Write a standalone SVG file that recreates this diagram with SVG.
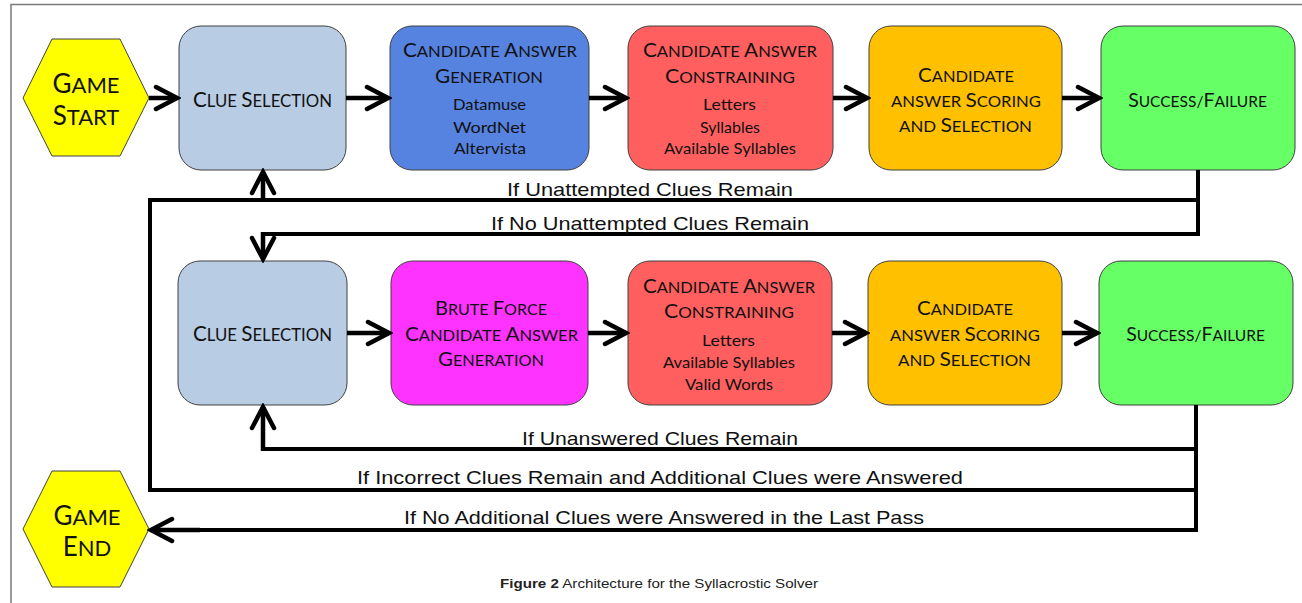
<svg xmlns="http://www.w3.org/2000/svg" width="1302" height="603" viewBox="0 0 1302 603">
<defs>
<marker id="chev" markerUnits="userSpaceOnUse" viewBox="-26 -16 30 32" refX="0" refY="0" markerWidth="30" markerHeight="32" orient="auto">
<path d="M-21,-11 L0,0 L-21,11" fill="none" stroke="#000" stroke-width="4.5" stroke-linejoin="miter" stroke-linecap="round"/>
</marker>
</defs>
<style>
.box{stroke:#404040;stroke-width:1}
.t{font-family:Lato,"Open Sans","DejaVu Sans",sans-serif;fill:#111;text-anchor:middle}
.b{font-size:20px}
.s{font-size:16px}
.b1{font-size:21px}
.s1{font-size:17px}
.b2{font-size:19.5px}
.s2{font-size:15.5px}
.sub{font-family:Lato,"Open Sans","DejaVu Sans",sans-serif;font-size:16px;fill:#111;text-anchor:middle}
.lbl{font-family:"Liberation Sans",Arial,sans-serif;font-size:18.5px;fill:#111;text-anchor:middle}
.ln{fill:none;stroke:#000;stroke-width:4}
.ar{fill:none;stroke:#000;stroke-width:4.5;marker-end:url(#chev)}
</style>
<rect width="1302" height="603" fill="#fff"/>
<path d="M11,603 L11,4.5 L1302,4.5" fill="none" stroke="#7a7a7a" stroke-width="1.5"/>

<g id="game-start">
<polygon class="box" points="23,98 52,39 120,39 149,98 120,156 52,156" fill="#ffff00"/>
<text class="t" x="86" y="93"><tspan font-size="26">G</tspan><tspan font-size="22">AME</tspan></text>
<text class="t" x="86" y="125"><tspan font-size="26">S</tspan><tspan font-size="22">TART</tspan></text>
</g>

<g id="clue-selection-1">
<rect class="box" x="179" y="26" width="167" height="144" rx="22" fill="#b8cce4"/>
<text class="t" x="262.5" y="107" textLength="139" lengthAdjust="spacingAndGlyphs"><tspan class="b1">C</tspan><tspan class="s1">LUE </tspan><tspan class="b1">S</tspan><tspan class="s1">ELECTION</tspan></text>
</g>

<g id="candidate-generation">
<rect class="box" x="390" y="26" width="199" height="144" rx="22" fill="#5682e0"/>
<text class="t" x="490" y="57" textLength="174" lengthAdjust="spacingAndGlyphs"><tspan class="b">C</tspan><tspan class="s">ANDIDATE </tspan><tspan class="b">A</tspan><tspan class="s">NSWER</tspan></text>
<text class="t" x="489" y="83" textLength="108" lengthAdjust="spacingAndGlyphs"><tspan class="b">G</tspan><tspan class="s">ENERATION</tspan></text>
<text class="sub" x="489.5" y="110" textLength="73" lengthAdjust="spacingAndGlyphs">Datamuse</text>
<text class="sub" x="489.5" y="133" textLength="73" lengthAdjust="spacingAndGlyphs">WordNet</text>
<text class="sub" x="490" y="154" textLength="72" lengthAdjust="spacingAndGlyphs">Altervista</text>
</g>

<g id="candidate-constraining-1">
<rect class="box" x="628" y="26" width="205" height="144" rx="22" fill="#ff5f5f"/>
<text class="t" x="730" y="57" textLength="174" lengthAdjust="spacingAndGlyphs"><tspan class="b">C</tspan><tspan class="s">ANDIDATE </tspan><tspan class="b">A</tspan><tspan class="s">NSWER</tspan></text>
<text class="t" x="730" y="83" textLength="130" lengthAdjust="spacingAndGlyphs"><tspan class="b">C</tspan><tspan class="s">ONSTRAINING</tspan></text>
<text class="sub" x="729.5" y="110" textLength="53" lengthAdjust="spacingAndGlyphs">Letters</text>
<text class="sub" x="730" y="133" textLength="60" lengthAdjust="spacingAndGlyphs">Syllables</text>
<text class="sub" x="730" y="154" textLength="132" lengthAdjust="spacingAndGlyphs">Available Syllables</text>
</g>

<g id="scoring-1">
<rect class="box" x="869" y="26" width="193" height="144" rx="22" fill="#ffc000"/>
<text class="t" x="966" y="82" textLength="96" lengthAdjust="spacingAndGlyphs"><tspan class="b">C</tspan><tspan class="s">ANDIDATE</tspan></text>
<text class="t" x="966" y="107" textLength="150" lengthAdjust="spacingAndGlyphs"><tspan class="s">ANSWER </tspan><tspan class="b">S</tspan><tspan class="s">CORING</tspan></text>
<text class="t" x="965.5" y="132" textLength="133" lengthAdjust="spacingAndGlyphs"><tspan class="s">AND </tspan><tspan class="b">S</tspan><tspan class="s">ELECTION</tspan></text>
</g>

<g id="success-failure-1">
<rect class="box" x="1101" y="26" width="194" height="144" rx="22" fill="#66ff66"/>
<text class="t" x="1197.5" y="107"><tspan class="b2">S</tspan><tspan class="s2">UCCESS/</tspan><tspan class="b2">F</tspan><tspan class="s2">AILURE</tspan></text>
</g>

<g id="clue-selection-2">
<rect class="box" x="178" y="261" width="169" height="144" rx="22" fill="#b8cce4"/>
<text class="t" x="262.5" y="341" textLength="139" lengthAdjust="spacingAndGlyphs"><tspan class="b1">C</tspan><tspan class="s1">LUE </tspan><tspan class="b1">S</tspan><tspan class="s1">ELECTION</tspan></text>
</g>

<g id="brute-force-generation">
<rect class="box" x="391" y="261" width="197" height="144" rx="22" fill="#ff33ff"/>
<text class="t" x="491" y="315" textLength="112" lengthAdjust="spacingAndGlyphs"><tspan class="b">B</tspan><tspan class="s">RUTE </tspan><tspan class="b">F</tspan><tspan class="s">ORCE</tspan></text>
<text class="t" x="491.5" y="341" textLength="173" lengthAdjust="spacingAndGlyphs"><tspan class="b">C</tspan><tspan class="s">ANDIDATE </tspan><tspan class="b">A</tspan><tspan class="s">NSWER</tspan></text>
<text class="t" x="491" y="366" textLength="106" lengthAdjust="spacingAndGlyphs"><tspan class="b">G</tspan><tspan class="s">ENERATION</tspan></text>
</g>

<g id="candidate-constraining-2">
<rect class="box" x="628" y="261" width="204" height="144" rx="22" fill="#ff5f5f"/>
<text class="t" x="729" y="293" textLength="172" lengthAdjust="spacingAndGlyphs"><tspan class="b">C</tspan><tspan class="s">ANDIDATE </tspan><tspan class="b">A</tspan><tspan class="s">NSWER</tspan></text>
<text class="t" x="729" y="318" textLength="130" lengthAdjust="spacingAndGlyphs"><tspan class="b">C</tspan><tspan class="s">ONSTRAINING</tspan></text>
<text class="sub" x="728.5" y="346" textLength="53" lengthAdjust="spacingAndGlyphs">Letters</text>
<text class="sub" x="729" y="368" textLength="132" lengthAdjust="spacingAndGlyphs">Available Syllables</text>
<text class="sub" x="729" y="390" textLength="88" lengthAdjust="spacingAndGlyphs">Valid Words</text>
</g>

<g id="scoring-2">
<rect class="box" x="868" y="261" width="194" height="144" rx="22" fill="#ffc000"/>
<text class="t" x="965" y="315" textLength="96" lengthAdjust="spacingAndGlyphs"><tspan class="b">C</tspan><tspan class="s">ANDIDATE</tspan></text>
<text class="t" x="965" y="341" textLength="150" lengthAdjust="spacingAndGlyphs"><tspan class="s">ANSWER </tspan><tspan class="b">S</tspan><tspan class="s">CORING</tspan></text>
<text class="t" x="964.5" y="366" textLength="133" lengthAdjust="spacingAndGlyphs"><tspan class="s">AND </tspan><tspan class="b">S</tspan><tspan class="s">ELECTION</tspan></text>
</g>

<g id="success-failure-2">
<rect class="box" x="1099" y="261" width="194" height="144" rx="22" fill="#66ff66"/>
<text class="t" x="1195.5" y="341"><tspan class="b2">S</tspan><tspan class="s2">UCCESS/</tspan><tspan class="b2">F</tspan><tspan class="s2">AILURE</tspan></text>
</g>

<g id="game-end">
<polygon class="box" points="23,529 52,471 120,471 149,529 120,587 52,587" fill="#ffff00"/>
<text class="t" x="87" y="525"><tspan font-size="26">G</tspan><tspan font-size="22">AME</tspan></text>
<text class="t" x="87" y="556"><tspan font-size="26">E</tspan><tspan font-size="22">ND</tspan></text>
</g>

<g id="connectors">
<line class="ar" x1="149" y1="98" x2="177" y2="98"/>
<line class="ar" x1="346" y1="98" x2="388" y2="98"/>
<line class="ar" x1="589" y1="98" x2="626" y2="98"/>
<line class="ar" x1="833" y1="98" x2="867" y2="98"/>
<line class="ar" x1="1062" y1="98" x2="1099" y2="98"/>
<line class="ar" x1="347" y1="333" x2="389" y2="333"/>
<line class="ar" x1="588" y1="333" x2="626" y2="333"/>
<line class="ar" x1="832" y1="333" x2="866" y2="333"/>
<line class="ar" x1="1062" y1="333" x2="1097" y2="333"/>

<path class="ln" d="M1198,170 L1198,200 L150,200 L150,490 L1196,490"/>
<path class="ln" d="M1198,198 L1198,234 L263,234 L263,240"/>
<line class="ar" x1="263" y1="232" x2="263" y2="259"/>
<line class="ar" x1="263" y1="202" x2="263" y2="172"/>
<path class="ln" d="M1196,405 L1196,530 L165,530"/>
<path class="ln" d="M1196,449 L263,449 L263,440"/>
<line class="ar" x1="263" y1="451" x2="263" y2="407"/>
<line class="ar" x1="200" y1="530" x2="151" y2="530"/>
</g>

<g id="labels">
<text class="lbl" x="650" y="196" textLength="286" lengthAdjust="spacingAndGlyphs">If Unattempted Clues Remain</text>
<text class="lbl" x="650" y="230" textLength="318" lengthAdjust="spacingAndGlyphs">If No Unattempted Clues Remain</text>
<text class="lbl" x="660" y="445" textLength="276" lengthAdjust="spacingAndGlyphs">If Unanswered Clues Remain</text>
<text class="lbl" x="660" y="484" textLength="606" lengthAdjust="spacingAndGlyphs">If Incorrect Clues Remain and Additional Clues were Answered</text>
<text class="lbl" x="664" y="524" textLength="520" lengthAdjust="spacingAndGlyphs">If No Additional Clues were Answered in the Last Pass</text>
</g>

<g id="caption">
<text x="659" y="588" font-family="'Liberation Sans',Arial,sans-serif" font-size="13" fill="#222" text-anchor="middle" textLength="318" lengthAdjust="spacingAndGlyphs"><tspan font-weight="bold">Figure 2</tspan> Architecture for the Syllacrostic Solver</text>
</g>
</svg>
